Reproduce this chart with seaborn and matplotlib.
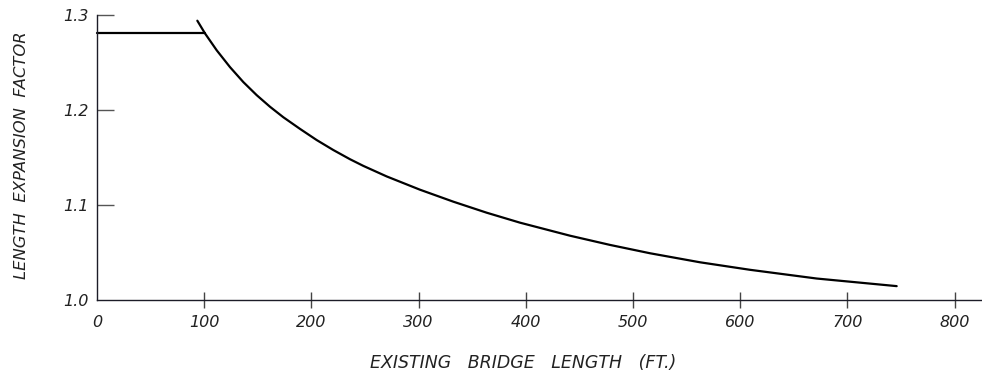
import matplotlib
matplotlib.use("Agg")
import matplotlib.pyplot as plt
import seaborn as sns

# values
flat_x = [0, 100.7]
flat_y = [1.281, 1.281]

curve_x = [93.6, 100.7, 111.7, 124.1, 136.5, 149.0, 161.4, 173.8, 189.4, 204.9,
           220.4, 236.0, 248.4, 270.2, 301.3, 332.4, 363.5, 394.6, 441.2, 478.5,
           515.9, 562.5, 609.1, 671.4, 746.0]
curve_y = [1.2940, 1.2807, 1.2628, 1.2451, 1.2294, 1.2156, 1.2034, 1.1924, 1.1801, 1.1684,
           1.1579, 1.1482, 1.1412, 1.1301, 1.1161, 1.1035, 1.0919, 1.0814, 1.0677, 1.0580,
           1.0492, 1.0397, 1.0318, 1.0226, 1.0146]

x_ticks = [0, 100, 200, 300, 400, 500, 600, 700, 800]
y_ticks = [1.0, 1.1, 1.2, 1.3]
y_tick_labels = ["1.0", "1.1", "1.2", "1.3"]

sns.set_style("white")
plt.rcParams['font.family'] = ['DejaVu Sans']

fig = plt.figure(figsize=(9.82, 3.88), dpi=100)
ax = fig.add_axes([97 / 982, 1 - 300 / 388, 885 / 982, 285 / 388])

sns.lineplot(x=flat_x, y=flat_y, ax=ax, color="black", linewidth=1.6, clip_on=False)
sns.lineplot(x=curve_x, y=curve_y, ax=ax, color="black", linewidth=1.6, clip_on=False)

ax.set_xlim(0, 825.6)
ax.set_ylim(1.0, 1.3)

for side in ["top", "right"]:
    ax.spines[side].set_visible(False)
for side in ["left", "bottom"]:
    ax.spines[side].set_color("#1c1c28")
    ax.spines[side].set_linewidth(1.0)

ax.set_xticks(x_ticks)
ax.set_xticklabels([str(v) for v in x_ticks], fontsize=11.5, style="italic", color="#222222")
ax.set_yticks(y_ticks)
ax.set_yticklabels(y_tick_labels, fontsize=11.5, style="italic", color="#222222")

ax.tick_params(axis="x", bottom=True, direction="inout", length=11, width=1.0,
               color="#444444", pad=5)
ax.tick_params(axis="y", left=True, direction="in", length=12, width=1.0,
               color="#555555", pad=6)
ax.xaxis.get_major_ticks()[0].tick1line.set_visible(False)
ax.yaxis.get_major_ticks()[0].tick1line.set_visible(False)

ax.set_xlabel("EXISTING   BRIDGE   LENGTH   (FT.)", fontsize=12.5, style="italic", color="#222222")
ax.xaxis.set_label_coords((523 - 97) / 885, -63 / 285)
ax.set_ylabel("LENGTH  EXPANSION  FACTOR", fontsize=11.8, style="italic", color="#222222")
ax.yaxis.set_label_coords((22 - 97) / 885, (300 - 155) / 285)
ax.xaxis.label.set_va("center")
ax.yaxis.label.set_va("center")

fig.savefig("out.png", dpi=100)
